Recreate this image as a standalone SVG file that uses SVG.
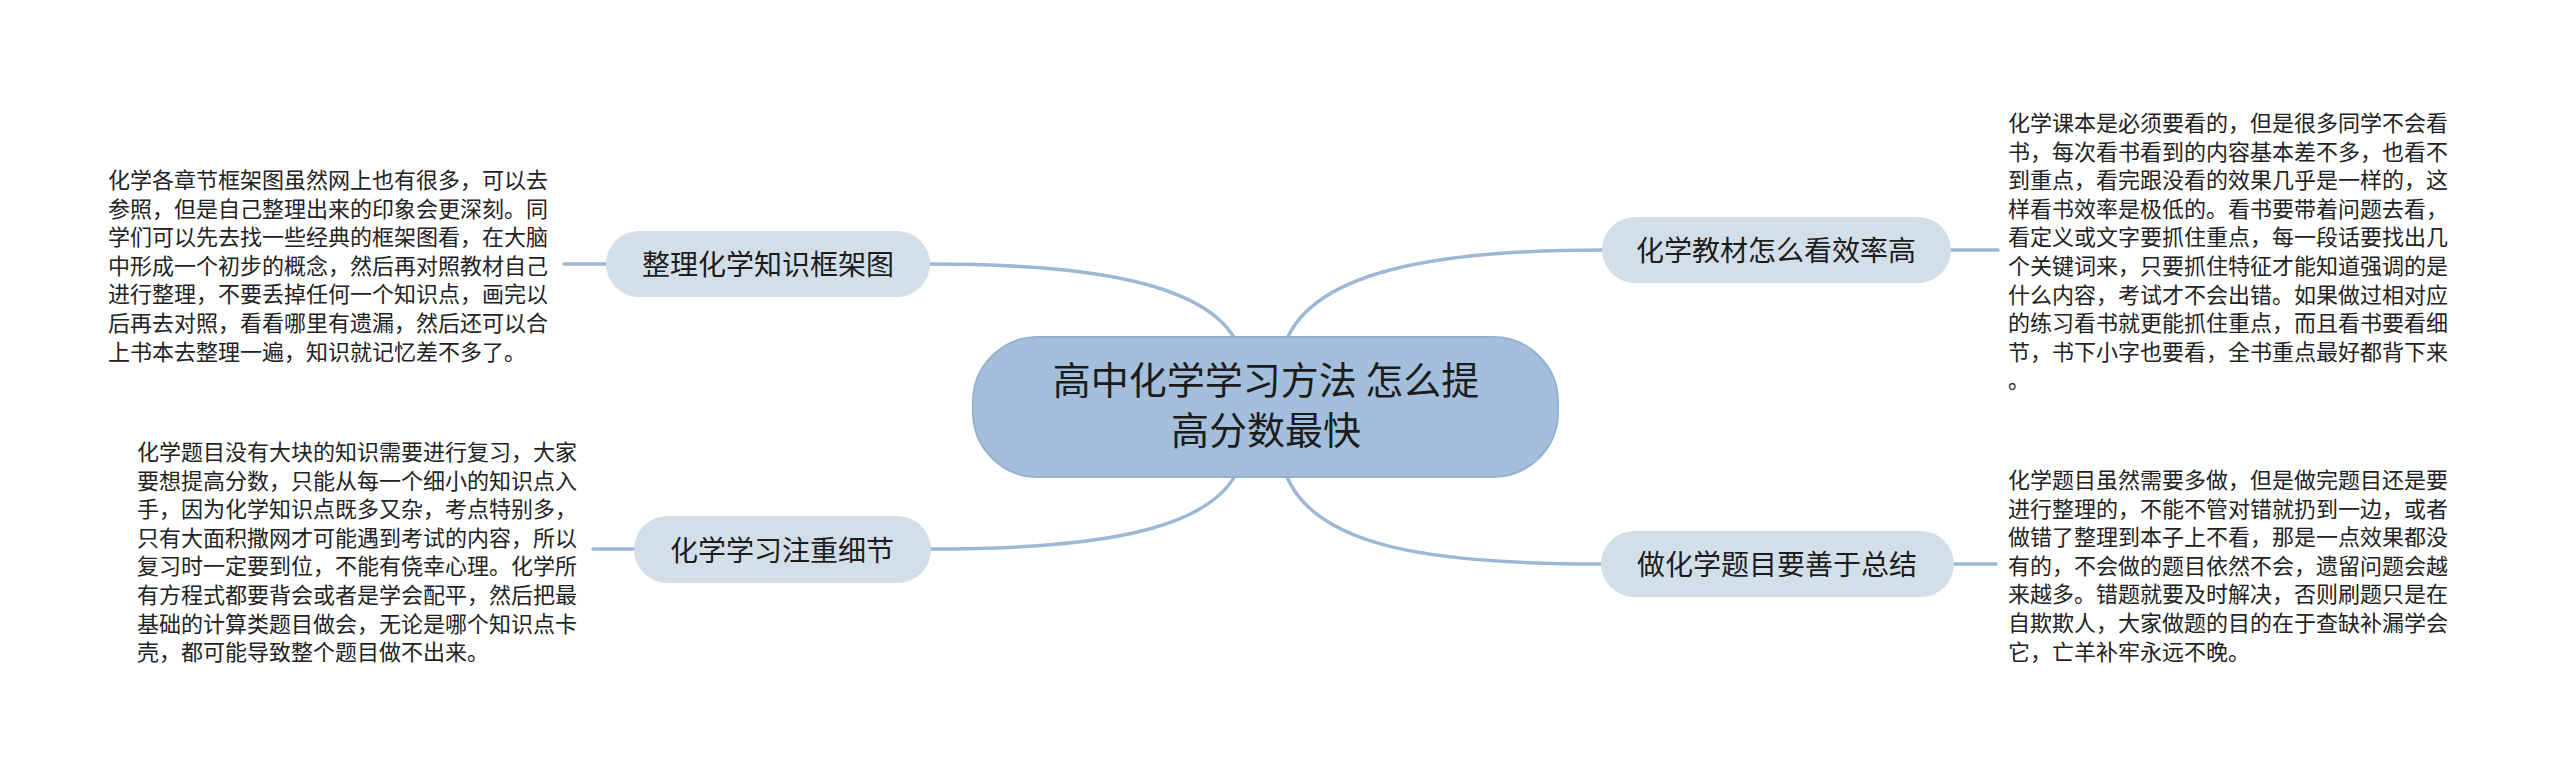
<svg xmlns="http://www.w3.org/2000/svg" width="2560" height="771" viewBox="0 0 2560 771">
<style>
.bg{fill:#ffffff}
.conn{fill:none;stroke:#9db8d4;stroke-width:3.5;stroke-linecap:round}
.main{fill:#a3bfdb;stroke:#94b2d0;stroke-width:2}
.sub{fill:#d3dfe8}
.t-main{font-family:"Noto Sans CJK SC","Noto Sans",sans-serif;font-size:38px;fill:#1c1c1c;text-anchor:middle}
.t-sub{font-family:"Noto Sans CJK SC","Noto Sans",sans-serif;font-size:28px;fill:#1c1c1c;text-anchor:middle}
.t-body{font-family:"Noto Sans CJK SC","Noto Sans",sans-serif;font-size:22px;fill:#222222}
</style>
<rect class="bg" x="0" y="0" width="2560" height="771"/>
<g id="connectors">
<path class="conn" d="M928 264 C1080 264 1215 280 1240 350"/>
<path class="conn" d="M1602 250 C1440 250 1305 270 1283 350"/>
<path class="conn" d="M931 549 C1080 549 1215 535 1240 465"/>
<path class="conn" d="M1601 564 C1440 564 1305 550 1283 465"/>
<path class="conn" d="M564 264 H606"/>
<path class="conn" d="M593 549 H634"/>
<path class="conn" d="M1951 250 H1998"/>
<path class="conn" d="M1954 564 H1996"/>
</g>
<g id="center">
<rect class="main" x="973" y="337" width="585" height="140" rx="65" ry="65"/>
<text class="t-main" x="1266" y="394">高中化学学习方法 怎么提</text>
<text class="t-main" x="1266" y="444">高分数最快</text>
</g>
<g id="node-framework">
<rect class="sub" x="606" y="231" width="324" height="66" rx="33" ry="33"/>
<text class="t-sub" x="768" y="275">整理化学知识框架图</text>
</g>
<g id="text-framework">
<text class="t-body" x="108" y="188">
<tspan x="108" dy="0">化学各章节框架图虽然网上也有很多，可以去</tspan>
<tspan x="108" dy="28.6">参照，但是自己整理出来的印象会更深刻。同</tspan>
<tspan x="108" dy="28.6">学们可以先去找一些经典的框架图看，在大脑</tspan>
<tspan x="108" dy="28.6">中形成一个初步的概念，然后再对照教材自己</tspan>
<tspan x="108" dy="28.6">进行整理，不要丢掉任何一个知识点，画完以</tspan>
<tspan x="108" dy="28.6">后再去对照，看看哪里有遗漏，然后还可以合</tspan>
<tspan x="108" dy="28.6">上书本去整理一遍，知识就记忆差不多了。</tspan>
</text>
</g>
<g id="node-detail">
<rect class="sub" x="634" y="516" width="297" height="67" rx="33.5" ry="33.5"/>
<text class="t-sub" x="782" y="561">化学学习注重细节</text>
</g>
<g id="text-detail">
<text class="t-body" x="137" y="460">
<tspan x="137" dy="0">化学题目没有大块的知识需要进行复习，大家</tspan>
<tspan x="137" dy="28.6">要想提高分数，只能从每一个细小的知识点入</tspan>
<tspan x="137" dy="28.6">手，因为化学知识点既多又杂，考点特别多，</tspan>
<tspan x="137" dy="28.6">只有大面积撒网才可能遇到考试的内容，所以</tspan>
<tspan x="137" dy="28.6">复习时一定要到位，不能有侥幸心理。化学所</tspan>
<tspan x="137" dy="28.6">有方程式都要背会或者是学会配平，然后把最</tspan>
<tspan x="137" dy="28.6">基础的计算类题目做会，无论是哪个知识点卡</tspan>
<tspan x="137" dy="28.6">壳，都可能导致整个题目做不出来。</tspan>
</text>
</g>
<g id="node-textbook">
<rect class="sub" x="1602" y="217" width="349" height="66" rx="33" ry="33"/>
<text class="t-sub" x="1776" y="261">化学教材怎么看效率高</text>
</g>
<g id="text-textbook">
<text class="t-body" x="2008" y="131">
<tspan x="2008" dy="0">化学课本是必须要看的，但是很多同学不会看</tspan>
<tspan x="2008" dy="28.6">书，每次看书看到的内容基本差不多，也看不</tspan>
<tspan x="2008" dy="28.6">到重点，看完跟没看的效果几乎是一样的，这</tspan>
<tspan x="2008" dy="28.6">样看书效率是极低的。看书要带着问题去看，</tspan>
<tspan x="2008" dy="28.6">看定义或文字要抓住重点，每一段话要找出几</tspan>
<tspan x="2008" dy="28.6">个关键词来，只要抓住特征才能知道强调的是</tspan>
<tspan x="2008" dy="28.6">什么内容，考试才不会出错。如果做过相对应</tspan>
<tspan x="2008" dy="28.6">的练习看书就更能抓住重点，而且看书要看细</tspan>
<tspan x="2008" dy="28.6">节，书下小字也要看，全书重点最好都背下来</tspan>
<tspan x="2008" dy="28.6">。</tspan>
</text>
</g>
<g id="node-summary">
<rect class="sub" x="1601" y="531" width="353" height="66" rx="33" ry="33"/>
<text class="t-sub" x="1777" y="575">做化学题目要善于总结</text>
</g>
<g id="text-summary">
<text class="t-body" x="2008" y="488">
<tspan x="2008" dy="0">化学题目虽然需要多做，但是做完题目还是要</tspan>
<tspan x="2008" dy="28.6">进行整理的，不能不管对错就扔到一边，或者</tspan>
<tspan x="2008" dy="28.6">做错了整理到本子上不看，那是一点效果都没</tspan>
<tspan x="2008" dy="28.6">有的，不会做的题目依然不会，遗留问题会越</tspan>
<tspan x="2008" dy="28.6">来越多。错题就要及时解决，否则刷题只是在</tspan>
<tspan x="2008" dy="28.6">自欺欺人，大家做题的目的在于查缺补漏学会</tspan>
<tspan x="2008" dy="28.6">它，亡羊补牢永远不晚。</tspan>
</text>
</g>
</svg>
